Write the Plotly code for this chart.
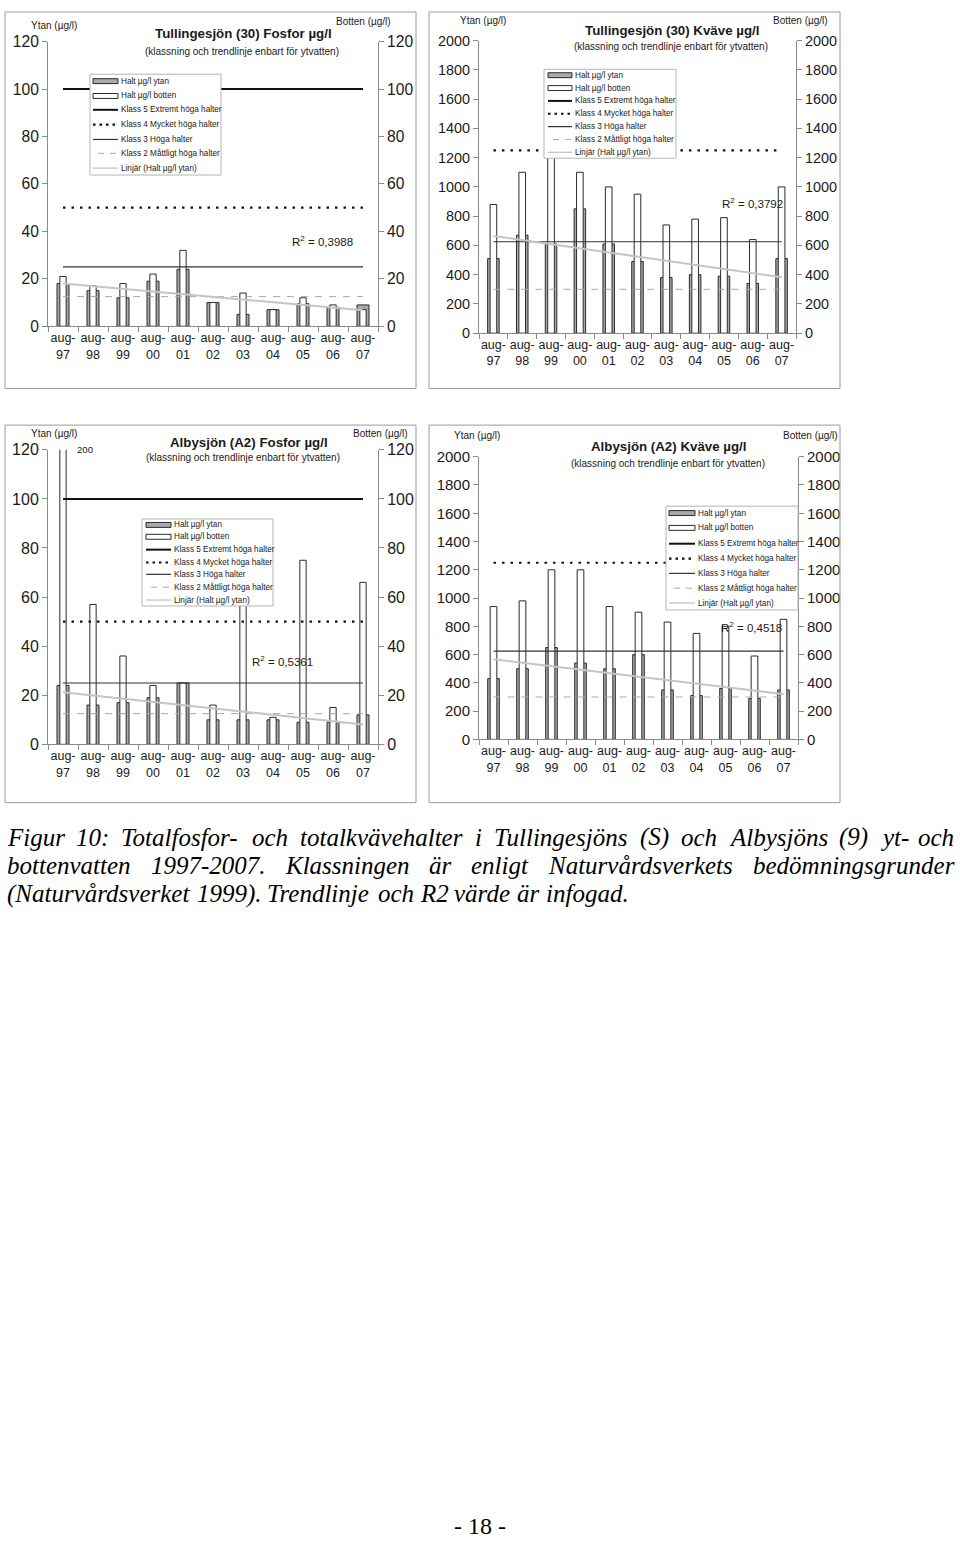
import plotly.graph_objects as go
import numpy as np

W, H = 960, 1547

# ---------------- data ----------------
years = ["97", "98", "99", "00", "01", "02", "03", "04", "05", "06", "07"]
cats = ["aug-<br>" + y for y in years]

tf_ytan = [18, 15, 12, 19, 24, 10, 5, 7, 9.5, 8, 9]
tf_botten = [21, 17, 18, 22, 32, 10, 14, 7, 12, 9, 7]
tk_ytan = [510, 670, 610, 850, 610, 490, 380, 400, 390, 340, 510]
tk_botten = [880, 1100, 1400, 1100, 1000, 950, 740, 780, 790, 640, 1000]
af_ytan = [24, 16, 17, 19, 25, 10, 10, 10, 9, 9, 12]
af_botten = [200, 57, 36, 24, 25, 16, 70, 11, 75, 15, 66]
ak_ytan = [430, 500, 650, 540, 500, 600, 350, 310, 360, 290, 350]
ak_botten = [940, 980, 1200, 1200, 940, 900, 830, 750, 800, 590, 850]

fosfor_klass = [100, 50, 25, 12.5]   # Klass 5, 4, 3, 2
kvave_klass = [5000, 1250, 625, 300]

r2_values = ["0,3988", "0,3792", "0,5361", "0,4518"]

titles = ["Tullingesjön (30) Fosfor µg/l", "Tullingesjön (30) Kväve µg/l",
          "Albysjön (A2) Fosfor µg/l", "Albysjön (A2) Kväve µg/l"]
subtitle = "(klassning och trendlinje enbart för ytvatten)"
ytan_label = "Ytan (µg/l)"
botten_label = "Botten (µg/l)"

series_names = ["Halt µg/l ytan", "Halt µg/l botten", "Klass 5 Extremt höga halter",
                "Klass 4 Mycket höga halter", "Klass 3 Höga halter",
                "Klass 2 Måttligt höga halter", "Linjär (Halt µg/l ytan)"]

caption_lines = [
    "Figur 10: Totalfosfor- och totalkvävehalter i Tullingesjöns (S) och Albysjöns (9) yt- och",
    "bottenvatten 1997-2007. Klassningen är enligt Naturvårdsverkets bedömningsgrunder",
    "(Naturvårdsverket 1999). Trendlinje och R2 värde är infogad.",
]
page_number = "- 18 -"

# ---------------- layout geometry ----------------
def px(x):
    return x / W

def py(y):
    return 1 - y / H

panels = [
    dict(ytan=tf_ytan, botten=tf_botten, klass=fosfor_klass, ymax=120, dtick=20,
         area=(48, 378, 33, 321), wy=0.40, wb=0.21, tf=15.6, xf=12.5,
         title_xy=(243, 25), sub_xy=(242, 43), ytan_xy=(54, 17), botten_xy=(363, 13),
         r2_xy=(322, 235),
         legend=dict(box=(90, 221, 66, 168), rows=[73, 88, 102, 117, 132, 146, 161],
                     sym=(93, 118), tx=119),
         border=(5, 416, 3, 384)),
    dict(ytan=tk_ytan, botten=tk_botten, klass=kvave_klass, ymax=2000, dtick=200,
         area=(479, 796, 32, 328), wy=0.40, wb=0.23, tf=14.4, xf=12.5,
         title_xy=(672, 22), sub_xy=(671, 38), ytan_xy=(483, 12), botten_xy=(800, 12),
         r2_xy=(752, 196),
         legend=dict(box=(544, 676, 61, 151), rows=[67, 80, 93, 106, 119, 132, 145],
                     sym=(548, 572), tx=573),
         border=(429, 840, 3, 384)),
    dict(ytan=af_ytan, botten=af_botten, klass=fosfor_klass, ymax=120, dtick=20,
         area=(48, 378, 446, 744), wy=0.40, wb=0.21, tf=16, xf=12.5,
         title_xy=(249, 439), sub_xy=(243, 454), ytan_xy=(54, 429), botten_xy=(380, 429),
         r2_xy=(282, 660),
         legend=dict(box=(142, 273, 516, 604), rows=[522, 534, 547, 560, 572, 585, 598],
                     sym=(146, 171), tx=172),
         border=(5, 416, 421, 803)),
    dict(ytan=ak_ytan, botten=ak_botten, klass=kvave_klass, ymax=2000, dtick=200,
         area=(479, 798, 453, 739), wy=0.40, wb=0.23, tf=15, xf=12.5,
         title_xy=(668, 443), sub_xy=(668, 460), ytan_xy=(477, 432), botten_xy=(810, 432),
         r2_xy=(751, 625),
         legend=dict(box=(666, 798, 503, 608), rows=[510, 525, 541, 556, 571, 586, 601],
                     sym=(669, 695), tx=696),
         border=(429, 840, 421, 803)),
]

SANS = "Liberation Sans, Arial, sans-serif"
SERIF = "Liberation Serif, Times New Roman, serif"
TXT = "#1a1a1a"
AX = "#8a8a8a"
DARK = "#2b2b2b"
GREYFILL = "#a9a9a9"

K5 = dict(color="#111111", width=2)
K4 = dict(color="#111111", width=2.2, dash="2.5px,6px")
K3 = dict(color="#333333", width=1.2)
K2 = dict(color="#a8a8a8", width=1, dash="7px,7px")
LIN = dict(color="#c4c4c4", width=2)

fig = go.Figure()
shapes = []
annotations = []
layout_axes = {}

for i, p in enumerate(panels):
    xid = "x" if i == 0 else f"x{i+1}"
    yl = f"y{2*i+1}" if i > 0 else "y"
    yr = f"y{2*i+2}"
    xkey = "xaxis" if i == 0 else f"xaxis{i+1}"
    ylkey = "yaxis" if i == 0 else f"yaxis{2*i+1}"
    yrkey = f"yaxis{2*i+2}"
    x0, x1, y0, y1 = p["area"]

    fig.add_trace(go.Bar(x=cats, y=p["ytan"], width=p["wy"], name=series_names[0],
                         marker=dict(color=GREYFILL, line=dict(color=DARK, width=1)),
                         xaxis=xid, yaxis=yl, showlegend=False))
    fig.add_trace(go.Bar(x=cats, y=p["botten"], width=p["wb"], name=series_names[1],
                         marker=dict(color="white", line=dict(color=DARK, width=1)),
                         xaxis=xid, yaxis=yl, showlegend=False))
    for val, style, nm in zip(p["klass"], [K5, K4, K3, K2], series_names[2:6]):
        fig.add_trace(go.Scatter(x=[cats[0], cats[-1]], y=[val, val], mode="lines",
                                 line=style, name=nm, xaxis=xid, yaxis=yl,
                                 showlegend=False, hoverinfo="skip"))
    idx = np.arange(len(years))
    coef = np.polyfit(idx, np.array(p["ytan"], dtype=float), 1)
    trend = np.polyval(coef, idx)
    fig.add_trace(go.Scatter(x=cats, y=trend, mode="lines", line=LIN, name=series_names[6],
                             xaxis=xid, yaxis=yl, showlegend=False, hoverinfo="skip"))
    fig.add_trace(go.Scatter(x=[cats[0]], y=[0], mode="markers", marker=dict(opacity=0),
                             xaxis=xid, yaxis=yr, showlegend=False, hoverinfo="skip"))

    common_y = dict(range=[0, p["ymax"]], dtick=p["dtick"], showline=True, linecolor=AX,
                    linewidth=1, ticks="outside", ticklen=5, tickcolor=AX, showgrid=False,
                    zeroline=False, tickfont=dict(family=SANS, size=p["tf"], color=TXT),
                    fixedrange=True)
    layout_axes[xkey] = dict(domain=[px(x0), px(x1)], anchor=yl, type="category",
                             range=[-0.5, len(years) - 0.5], showline=True, linecolor=AX,
                             ticks="outside", tickson="boundaries", ticklen=5, tickcolor=AX,
                             tickangle=0, showgrid=False,
                             tickfont=dict(family=SANS, size=p["xf"], color=TXT),
                             fixedrange=True)
    layout_axes[ylkey] = dict(domain=[py(y1), py(y0)], anchor=xid, **common_y)
    layout_axes[yrkey] = dict(overlaying=yl, side="right", anchor=xid, **common_y)

    # panel border
    bx0, bx1, by0, by1 = p["border"]
    shapes.append(dict(type="rect", xref="paper", yref="paper", x0=px(bx0), x1=px(bx1),
                       y0=py(by1), y1=py(by0), line=dict(color="#9a9a9a", width=1)))

    # texts
    def ann(text, xy, size, bold=False, xanchor="center"):
        t = f"<b>{text}</b>" if bold else text
        annotations.append(dict(text=t, x=px(xy[0]), y=py(xy[1]), xref="paper", yref="paper",
                                showarrow=False, xanchor=xanchor, yanchor="middle",
                                font=dict(family=SANS, size=size, color=TXT)))
    ann(titles[i], p["title_xy"], 13.3, bold=True)
    ann(subtitle, p["sub_xy"], 10)
    ann(ytan_label, p["ytan_xy"], 10)
    ann(botten_label, p["botten_xy"], 10)
    ann(f"R<sup>2</sup> = {r2_values[i]}", p["r2_xy"], 11.5)
    if i == 2:
        ann(str(af_botten[0]), (85, 446), 9.6)

    # manual legend
    lg = p["legend"]
    lx0, lx1, ly0, ly1 = lg["box"]
    shapes.append(dict(type="rect", xref="paper", yref="paper", x0=px(lx0), x1=px(lx1),
                       y0=py(ly1), y1=py(ly0), line=dict(color="#b5b5b5", width=1),
                       fillcolor="white"))
    sx0, sx1 = lg["sym"]
    for k, (ry, nm) in enumerate(zip(lg["rows"], series_names)):
        if k < 2:
            shapes.append(dict(type="rect", xref="paper", yref="paper", x0=px(sx0), x1=px(sx1),
                               y0=py(ry + 2.5), y1=py(ry - 2.5),
                               line=dict(color=DARK, width=1),
                               fillcolor=GREYFILL if k == 0 else "white"))
        else:
            style = [K5, K4, K3, K2, LIN][k - 2]
            st = dict(style)
            if k == 3:
                st["dash"] = "2.5px,4px"
            if k == 5:
                st["dash"] = "6px,6px"
            if k == 6:
                st["width"] = 1.3
            shapes.append(dict(type="line", xref="paper", yref="paper",
                               x0=px(sx0 + (5 if k == 5 else 0)),
                               x1=px(sx1), y0=py(ry), y1=py(ry), line=st))
        annotations.append(dict(text=nm, x=px(lg["tx"]), y=py(ry), xref="paper", yref="paper",
                                showarrow=False, xanchor="left", yanchor="middle",
                                font=dict(family=SANS, size=8.2, color=TXT)))

# ---------------- caption (justified, Times italic metrics) ----------------
TI = {' ': 250, 'a': 500, 'b': 500, 'c': 444, 'd': 500, 'e': 444, 'f': 278, 'g': 500,
      'h': 500, 'i': 278, 'j': 278, 'k': 444, 'l': 278, 'm': 722, 'n': 500, 'o': 500,
      'p': 500, 'q': 500, 'r': 389, 's': 389, 't': 278, 'u': 500, 'v': 444, 'w': 667,
      'x': 444, 'y': 444, 'z': 389, 'ä': 500, 'ö': 500, 'å': 500, 'A': 611, 'F': 611,
      'K': 667, 'N': 667, 'R': 611, 'S': 500, 'T': 556, '(': 333, ')': 333, ':': 333,
      '-': 333, '.': 250, ',': 250}

def wem(s):
    return sum(TI.get(c, 500) for c in s) / 1000.0

CAP_FS = 25
cap_y = [838, 867, 895]
left, right = 5, 952
for li, line in enumerate(caption_lines):
    words = line.split(" ")
    ww = [wem(w) * CAP_FS for w in words]
    if li < 2:
        gap = (right - left - sum(ww)) / (len(words) - 1)
    else:
        gap = TI[' '] / 1000.0 * CAP_FS
    x = left
    for w, wdt in zip(words, ww):
        annotations.append(dict(text=f"<i>{w}</i>", x=px(x), y=py(cap_y[li]), xref="paper",
                                yref="paper", showarrow=False, xanchor="left", yanchor="middle",
                                font=dict(family=SERIF, size=CAP_FS, color="#000000")))
        x += wdt + gap

annotations.append(dict(text=page_number, x=px(480), y=py(1535), xref="paper", yref="paper",
                        showarrow=False, xanchor="center", yanchor="middle",
                        font=dict(family=SERIF, size=24, color="#000000")))

fig.update_layout(width=W, height=H, margin=dict(l=0, r=0, t=0, b=0),
                  paper_bgcolor="white", plot_bgcolor="white", barmode="overlay",
                  showlegend=False, shapes=shapes, annotations=annotations, **layout_axes)

fig.write_html("out.html")
